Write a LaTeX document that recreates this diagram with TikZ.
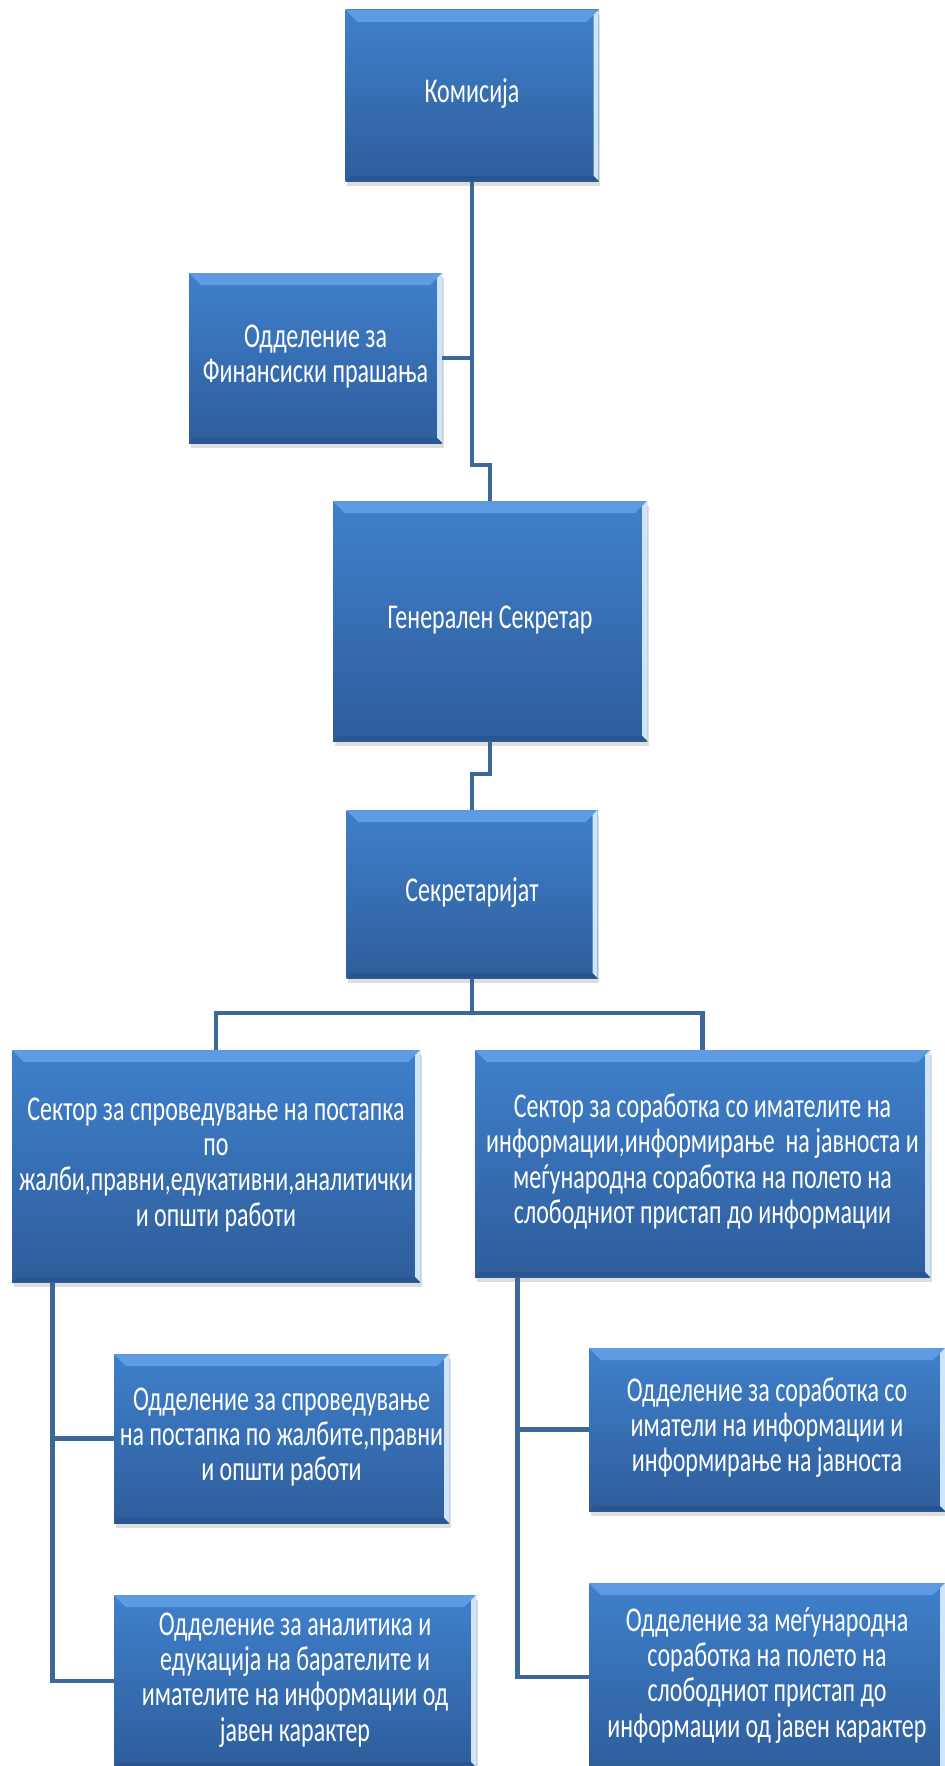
\documentclass[tikz,border=0pt]{standalone}
\usepackage{fontspec}
\setmainfont{Carlito}
\usepackage{graphicx}
\usetikzlibrary{shadows}

\definecolor{boxtop}{HTML}{3F80CC}
\definecolor{boxbot}{HTML}{2E5D9B}
\definecolor{bevlight}{HTML}{5E9BE2}
\definecolor{bevedge}{HTML}{CFE5FB}
\definecolor{bevdark}{HTML}{2A5590}
\definecolor{linkblue}{HTML}{3D6699}

% text in the boxes is drawn tall and narrow
\newcommand{\stretchtext}[1]{\scalebox{1}[1.45]{\begin{tabular}{@{}c@{}}#1\end{tabular}}}

\tikzset{
  orgbox/.style={rectangle, inner sep=0pt, text=white,
    top color=boxtop, bottom color=boxbot,
    font=\fontsize{12}{12.2}\selectfont,
    drop shadow={shadow xshift=0.8pt, shadow yshift=-2.5pt, opacity=0.22, fill=black!60},
    path picture={
      \fill[bevlight] (path picture bounding box.north west) -- (path picture bounding box.north east)
        -- ([shift={(-6pt,-6pt)}]path picture bounding box.north east)
        -- ([shift={(6pt,-6pt)}]path picture bounding box.north west) -- cycle;
      \fill[bevedge] (path picture bounding box.north east) -- (path picture bounding box.south east)
        -- ([shift={(-2.5pt,2.5pt)}]path picture bounding box.south east)
        -- ([shift={(-2.5pt,-2.5pt)}]path picture bounding box.north east) -- cycle;
      \fill[bevdark] (path picture bounding box.south west) -- (path picture bounding box.south east)
        -- ([shift={(-2.5pt,2.5pt)}]path picture bounding box.south east)
        -- ([shift={(2.5pt,2.5pt)}]path picture bounding box.south west) -- cycle;
    }},
  link/.style={draw=linkblue, line width=2.4pt}
}

\begin{document}
\begin{tikzpicture}[x=0.5pt, y=-0.5pt]
  \useasboundingbox (0,0) rectangle (945,1766);

  % top of the chart
  \node[orgbox, minimum width=126.5pt, minimum height=85.5pt] (kom) at (472,95.5) {\stretchtext{Комисија}};
  \node[orgbox, minimum width=126.5pt, minimum height=85pt] (fin) at (315.5,358) {\stretchtext{Одделение за\\Финансиски прашања}};
  \node[orgbox, minimum width=157pt, minimum height=120pt] (gen) at (490,621) {\stretchtext{Генерален Секретар}};
  \node[orgbox, minimum width=125.5pt, minimum height=84pt] (sek) at (472,894) {\stretchtext{Секретаријат}};

  % sectors
  \node[orgbox, minimum width=204pt, minimum height=116pt] (secL) at (216,1166)
    {\stretchtext{Сектор за спроведување на постапка\\по\\жалби,правни,едукативни,аналитички\\и општи работи}};
  \node[orgbox, minimum width=227.5pt, minimum height=113.5pt] (secR) at (702.5,1163.5)
    {\stretchtext{Сектор за соработка со имателите на\\информации,информирање\ \ на јавноста и\\меѓународна соработка на полето на\\слободниот пристап до информации}};

  % departments
  \node[orgbox, minimum width=167.5pt, minimum height=84.5pt] (odL1) at (281.5,1438.5)
    {\stretchtext{Одделение за спроведување\\на постапка по жалбите,правни\\и општи работи}};
  \node[orgbox, minimum width=181pt, minimum height=86pt] (odL2) at (295,1681)
    {\stretchtext{Одделение за аналитика и\\едукација на барателите и\\имателите на информации од\\јавен карактер}};
  \node[orgbox, minimum width=178pt, minimum height=81.5pt] (odR1) at (767,1429.5)
    {\stretchtext{Одделение за соработка со\\иматели на информации и\\информирање на јавноста}};
  \node[orgbox, minimum width=178pt, minimum height=94pt] (odR2) at (767,1677)
    {\stretchtext{Одделение за меѓународна\\соработка на полето на\\слободниот пристап до\\информации од јавен карактер}};

  % connectors
  \coordinate (jogA) at (472,465);
  \coordinate (jogB) at (490,774);
  \coordinate (bus) at (472,1013);
  \coordinate (spL) at ([xshift=20.5pt]secL.south west);
  \coordinate (spR) at ([xshift=21.5pt]secR.south west);

  \draw[link] (kom.south) -- (jogA) -| (gen.north);
  \draw[link] (fin.east) -- (fin.east -| kom.south);
  \draw[link] (gen.south) -- (jogB) -| (sek.north);
  \draw[link] (sek.south) -- (bus);
  \draw[link] (secL.north) |- (bus) -| (secR.north);
  \draw[link] (spL) |- (odL1.west);
  \draw[link] (spL) |- (odL2.west);
  \draw[link] (spR) |- (odR1.west);
  \draw[link] (spR) |- (odR2.west);
\end{tikzpicture}
\end{document}
